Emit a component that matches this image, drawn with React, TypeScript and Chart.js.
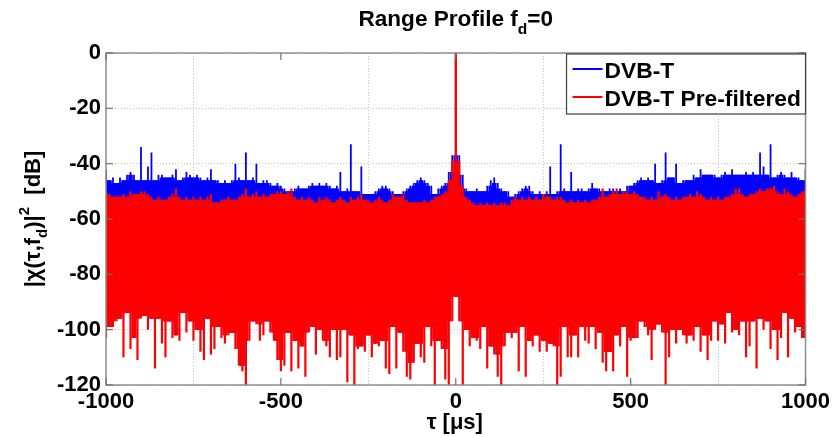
import React, { useEffect, useRef } from 'react';
import { Chart, registerables } from 'chart.js';

Chart.register(...registerables);

const TAU_START = -1000;
const TAU_STEP = 10;
const xTickValues = [-1000, -500, 0, 500, 1000];
const yTickValues = [0, -20, -40, -60, -80, -100, -120];
const seriesLabels = ['DVB-T', 'DVB-T Pre-filtered'];

// Upper envelope of the DVB-T (blue) trace
const blueTop = [
  -42, -46, -45, -47, -45, -46, -44, -43, -44, -46,
  -34, -46, -41, -36, -46, -44, -44, -45, -45, -44,
  -42, -46, -45, -43, -44, -45, -44, -45, -46, -45,
  -42, -46, -46, -47, -46, -47, -46, -40, -45, -46,
  -36, -46, -45, -40, -47, -46, -46, -47, -48, -47,
  -48, -49, -50, -50, -49, -48, -49, -49, -48, -47,
  -48, -47, -48, -47, -48, -49, -48, -43, -50, -49,
  -33, -50, -50, -41, -51, -51, -51, -50, -49, -48,
  -48, -49, -50, -51, -51, -50, -49, -48, -47, -46,
  -45, -46, -47, -48, -51, -49, -48, -47, -43, -37,
  0,
  -37, -44, -49, -50, -50, -49, -50, -50, -48, -46,
  -45, -47, -49, -50, -50, -52, -51, -50, -49, -48,
  -48, -50, -51, -50, -51, -50, -41, -51, -50, -33,
  -49, -50, -43, -50, -49, -49, -50, -49, -47, -49,
  -49, -50, -50, -49, -49, -50, -49, -50, -48, -48,
  -47, -46, -45, -46, -45, -46, -40, -47, -46, -36,
  -45, -45, -40, -47, -46, -46, -46, -44, -45, -42,
  -44, -44, -44, -44, -45, -44, -43, -44, -42, -44,
  -44, -44, -43, -44, -43, -44, -36, -41, -44, -33,
  -45, -44, -43, -44, -45, -43, -45, -45, -46, -42,
];

// Upper envelope of the pre-filtered (red) trace
const redTop = [
  -50, -51, -52, -52, -52, -51, -52, -50, -51, -51,
  -50, -50, -51, -52, -53, -52, -53, -53, -52, -51,
  -49, -52, -53, -52, -53, -52, -53, -52, -53, -52,
  -51, -54, -54, -53, -53, -52, -53, -53, -52, -51,
  -49, -52, -51, -50, -52, -51, -52, -51, -51, -50,
  -50, -51, -50, -49, -52, -53, -52, -53, -52, -53,
  -54, -52, -53, -52, -53, -54, -53, -52, -53, -54,
  -52, -53, -52, -51, -53, -53, -54, -53, -52, -53,
  -54, -53, -51, -52, -52, -51, -53, -54, -54, -54,
  -54, -53, -54, -53, -52, -52, -51, -50, -46, -39,
  0,
  -39, -48, -52, -53, -54, -55, -54, -55, -54, -55,
  -54, -55, -54, -54, -55, -53, -52, -53, -52, -53,
  -52, -53, -52, -53, -51, -52, -52, -53, -52, -52,
  -53, -54, -53, -54, -53, -54, -53, -54, -53, -53,
  -52, -49, -52, -51, -50, -49, -51, -50, -50, -51,
  -50, -51, -52, -52, -53, -52, -53, -50, -52, -51,
  -52, -53, -52, -53, -52, -52, -51, -52, -50, -51,
  -52, -53, -52, -53, -52, -53, -52, -52, -51, -49,
  -49, -51, -52, -51, -51, -50, -49, -50, -49, -49,
  -48, -50, -51, -49, -50, -51, -52, -51, -50, -49,
];

// Lower envelope of the red trace (the blue trace's lows are hidden behind it)
const redLow = [
  -103, -99, -99, -97, -96, -110, -94, -107, -103, -111,
  -96, -95, -100, -96, -114, -96, -105, -110, -97, -103,
  -102, -104, -94, -101, -97, -104, -100, -108, -111, -96,
  -109, -107, -99, -103, -105, -102, -101, -107, -113, -115,
  -120, -104, -97, -98, -104, -102, -97, -101, -104, -111,
  -115, -113, -101, -115, -104, -114, -106, -117, -101, -99,
  -109, -100, -104, -106, -110, -100, -111,
  -110, -100, -119, -102, -120, -107, -106, -108, -102, -110,
  -105, -106, -104, -114, -116, -99, -114, -101, -108, -117,
  -118, -112, -105, -110, -112, -99, -106, -120, -104, -107,
  -118, -120, -97, -88, -97, -120, -100, -106, -103, -104,
  -107, -99, -114, -106, -109, -117, -120, -106, -101, -103,
  -101, -115, -99, -117, -104, -106, -102, -108, -104, -108,
  -105, -106, -120, -117, -99, -110, -110,
  -102, -110, -99, -104, -105, -99, -107, -101, -112, -115,
  -108, -115, -102, -106, -99, -117, -104, -103, -103, -97,
  -99, -102, -111, -100, -98, -101, -120, -110, -100, -105,
  -100, -102, -105, -102, -104, -99, -108, -102, -111, -104,
  -97, -104, -98, -105, -94, -101, -100, -102, -97, -110,
  -106, -97, -114, -96, -100, -97, -107, -100, -111, -103,
  -94, -110, -96, -101, -99, -103, -103,
];

const tau = blueTop.map((_, i) => TAU_START + i * TAU_STEP);

// Geometry helpers: solid core of the noise band (shallowest neighbour values), thin lines reach the full value.
const coreLowOf = (arr: number[], i: number) =>
  Math.max(arr[i - 1] ?? arr[i], arr[i], arr[i + 1] ?? arr[i]);
const coreTopOf = (arr: number[], i: number) =>
  Math.min(arr[i - 1] ?? arr[i], arr[i], arr[i + 1] ?? arr[i]);

const FONT = "'Liberation Sans', Arial, Helvetica, sans-serif";
const BLUE = '#0000ff';
const RED = '#ff0000';

type Seg = { t: string; size: number; dy: number };

function drawRich(ctx: CanvasRenderingContext2D, segs: Seg[], x: number, y: number, align: 'center' | 'left') {
  const widths = segs.map((s) => {
    ctx.font = `bold ${s.size}px ${FONT}`;
    return ctx.measureText(s.t).width;
  });
  const total = widths.reduce((a, b) => a + b, 0);
  let cx = align === 'center' ? x - total / 2 : x;
  ctx.textAlign = 'left';
  ctx.textBaseline = 'alphabetic';
  segs.forEach((s, i) => {
    ctx.font = `bold ${s.size}px ${FONT}`;
    ctx.fillText(s.t, cx, y + s.dy);
    cx += widths[i];
  });
}

const decorPlugin = {
  id: 'matlabDecor',
  afterDraw(chart: any) {
    const { ctx, chartArea: a, scales } = chart;
    ctx.save();
    ctx.setLineDash([]);
    // axes box
    ctx.strokeStyle = '#8c8c8c';
    ctx.lineWidth = 1.5;
    ctx.strokeRect(a.left, a.top, a.right - a.left, a.bottom - a.top);
    // inward tick marks
    const T = 7;
    const seg = (x1: number, y1: number, x2: number, y2: number) => {
      ctx.beginPath();
      ctx.moveTo(x1, y1);
      ctx.lineTo(x2, y2);
      ctx.stroke();
    };
    ctx.strokeStyle = '#707070';
    ctx.lineWidth = 1.2;
    xTickValues.forEach((v) => {
      const px = scales.x.getPixelForValue(v);
      seg(px, a.bottom, px, a.bottom - T);
      seg(px, a.top, px, a.top + T);
    });
    yTickValues.forEach((v) => {
      const py = scales.y.getPixelForValue(v);
      seg(a.left, py, a.left + T, py);
      seg(a.right, py, a.right - T, py);
    });

    // legend
    const lw = 239;
    const lh = 60;
    const lx = a.right - lw;
    const ly = a.top + 1;
    ctx.fillStyle = '#ffffff';
    ctx.fillRect(lx, ly, lw, lh);
    ctx.strokeStyle = '#404040';
    ctx.lineWidth = 1.2;
    ctx.strokeRect(lx, ly, lw, lh);
    const colors = [BLUE, RED];
    const rowsY = [ly + 15, ly + 43];
    seriesLabels.forEach((lab, i) => {
      ctx.strokeStyle = colors[i];
      ctx.lineWidth = 2;
      seg(lx + 6, rowsY[i], lx + 36, rowsY[i]);
      ctx.fillStyle = '#000';
      drawRich(ctx, [{ t: lab, size: 22.8, dy: 0 }], lx + 38, rowsY[i] + 9, 'left');
    });

    ctx.fillStyle = '#000';
    // title
    const cx = (a.left + a.right) / 2;
    drawRich(
      ctx,
      [
        { t: 'Range Profile f', size: 22.6, dy: 0 },
        { t: 'd', size: 15.5, dy: 8 },
        { t: '=0', size: 22.6, dy: 0 },
      ],
      cx,
      26,
      'center'
    );
    // x label
    drawRich(ctx, [{ t: 'τ [μs]', size: 22, dy: 0 }], cx - 1, 429, 'center');
    // y label
    ctx.save();
    ctx.translate(40, (a.top + a.bottom) / 2);
    ctx.rotate(-Math.PI / 2);
    drawRich(
      ctx,
      [
        { t: '|χ(τ,f', size: 22, dy: 0 },
        { t: 'd', size: 15, dy: 7 },
        { t: ')|', size: 22, dy: 0 },
        { t: '2', size: 15, dy: -11 },
        { t: '  [dB]', size: 22, dy: 0 },
      ],
      0,
      0,
      'center'
    );
    ctx.restore();
    ctx.restore();
  },
};

export default function App() {
  const ref = useRef<HTMLCanvasElement | null>(null);

  useEffect(() => {
    document.body.style.margin = '0';
    const canvas = ref.current;
    if (!canvas) return;
    const tickFont = { family: FONT, size: 22, weight: 'bold' as const };
    const CORE = 4.6;
    const chart = new Chart(canvas, {
      type: 'bar',
      data: {
        datasets: [
          {
            label: seriesLabels[0],
            data: tau.map((t, i) => ({ x: t, y: [coreLowOf(redLow, i), coreTopOf(blueTop, i)] })) as any,
            backgroundColor: BLUE,
            barThickness: CORE,
            order: 3,
          },
          {
            label: seriesLabels[0] + ' lines',
            data: tau.map((t, i) => ({ x: t, y: [coreLowOf(redLow, i), blueTop[i]] })) as any,
            backgroundColor: BLUE,
            barThickness: 1.8,
            order: 2,
          },
          {
            label: seriesLabels[1],
            data: tau.map((t, i) => ({ x: t, y: [coreLowOf(redLow, i), coreTopOf(redTop, i)] })) as any,
            backgroundColor: RED,
            barThickness: CORE,
            order: 1,
          },
          {
            label: seriesLabels[1] + ' lines',
            data: tau.map((t, i) => ({ x: t, y: [redLow[i], redTop[i]] })) as any,
            backgroundColor: RED,
            barThickness: 2.2,
            order: 0,
          },
        ],
      },
      options: {
        responsive: false,
        animation: false,
        events: [],
        datasets: {
          bar: {
            grouped: false,
            borderWidth: 0,
            inflateAmount: 0,
          },
        },
        layout: { padding: { left: 0, right: 28, top: 53, bottom: 0 } },
        plugins: {
          legend: { display: false },
          tooltip: { enabled: false },
          title: { display: false },
        },
        scales: {
          x: {
            type: 'linear',
            min: -1000,
            max: 1000,
            offset: false,
            afterBuildTicks: (s: any) => {
              s.ticks = xTickValues.map((v) => ({ value: v }));
            },
            afterFit: (s: any) => {
              s.height = 52;
            },
            grid: { color: '#c4c4c4', lineWidth: 1, drawTicks: false },
            border: { display: false, dash: [1, 2] },
            ticks: {
              padding: 4,
              color: '#000',
              font: tickFont,
              maxRotation: 0,
              autoSkip: false,
              callback: (v: any) => String(v),
            },
          },
          y: {
            type: 'linear',
            min: -120,
            max: 0,
            afterBuildTicks: (s: any) => {
              s.ticks = yTickValues.map((v) => ({ value: v }));
            },
            afterFit: (s: any) => {
              s.width = 106;
            },
            grid: { color: '#c4c4c4', lineWidth: 1, drawTicks: false },
            border: { display: false, dash: [1, 2] },
            ticks: {
              padding: 5,
              color: '#000',
              font: tickFont,
              autoSkip: false,
              callback: (v: any) => String(v),
            },
          },
        },
      } as any,
      plugins: [decorPlugin],
    });
    return () => chart.destroy();
  }, []);

  return (
    <div style={{ width: 834, height: 437 }}>
      <canvas ref={ref} width={834} height={437} style={{ display: 'block' }} />
    </div>
  );
}
